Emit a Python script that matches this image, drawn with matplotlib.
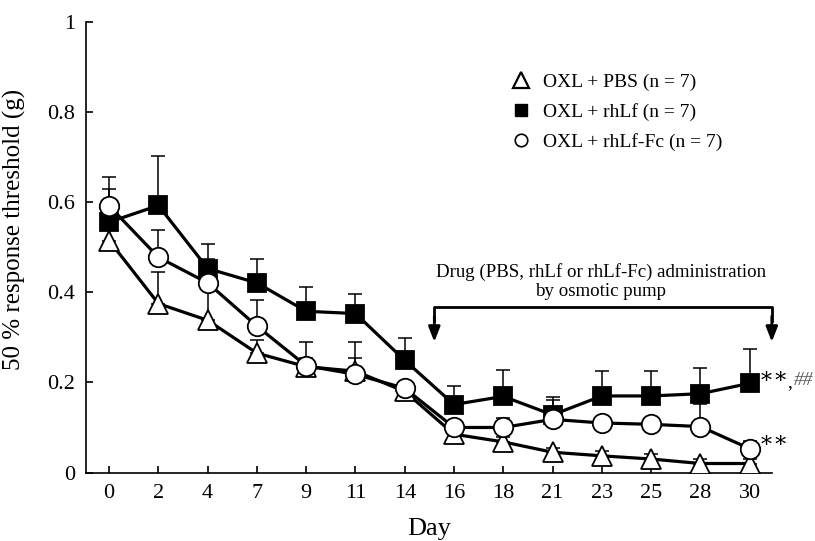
import numpy as np
import matplotlib
matplotlib.use('Agg')
import matplotlib.pyplot as plt
from matplotlib.lines import Line2D

plt.rcParams['font.family'] = ['Liberation Serif', 'DejaVu Serif']

days = ['0', '2', '4', '7', '9', '11', '14', '16', '18', '21', '23', '25', '28', '30']

pbs = [0.515, 0.375, 0.338, 0.265, 0.235, 0.225, 0.18, 0.085, 0.068, 0.045, 0.037, 0.03, 0.02, 0.02]
pbs_err = [0.04, 0.07, 0.08, 0.03, 0.02, 0.03, 0.02, 0.01, 0.01, 0.01, 0.01, 0.01, 0.01, 0.01]

rhlf = [0.556, 0.593, 0.453, 0.421, 0.358, 0.353, 0.249, 0.151, 0.169, 0.128, 0.17, 0.17, 0.175, 0.198]
rhlf_err = [0.073, 0.11, 0.054, 0.054, 0.055, 0.043, 0.05, 0.04, 0.058, 0.04, 0.055, 0.055, 0.058, 0.077]

fc = [0.592, 0.478, 0.421, 0.325, 0.237, 0.218, 0.187, 0.1, 0.1, 0.118, 0.11, 0.107, 0.102, 0.053]
fc_err = [0.064, 0.06, 0.054, 0.059, 0.053, 0.072, 0.01, 0.01, 0.02, 0.042, 0.01, 0.01, 0.05, 0.016]

labels = ['OXL + PBS (n = 7)', 'OXL + rhLf (n = 7)', 'OXL + rhLf-Fc (n = 7)']

x = np.arange(len(days))

fig = plt.figure(figsize=(8.15, 5.41), dpi=100)
ax = fig.add_axes([0.1055, 0.1266, 0.8415, 0.8324])

def series(vals, err, marker, face, ms, z):
    vals = np.array(vals)
    ax.errorbar(x, vals, yerr=[np.zeros(len(vals)), np.array(err)], fmt='none',
                ecolor='black', elinewidth=1.1, capsize=5, capthick=1.1, zorder=1)
    ax.plot(x, vals, color='black', lw=2.3, marker=marker, ms=ms,
            mfc=face, mec='black', mew=1.3, zorder=z)

series(rhlf, rhlf_err, 's', 'black', 13, 3)
series(pbs, pbs_err, '^', 'white', 14, 4)
series(fc, fc_err, 'o', 'white', 14, 5)

ax.set_xlim(-0.47, 13.45)
ax.set_ylim(0, 1)
ax.set_xticks(x)
ax.set_xticklabels(days)
ax.set_yticks([0, 0.2, 0.4, 0.6, 0.8, 1])
ax.set_yticklabels(['0', '0.2', '0.4', '0.6', '0.8', '1'])
ax.tick_params(direction='in', length=5, width=1.2, labelsize=16, pad=8)
for s in ['top', 'right']:
    ax.spines[s].set_visible(False)
for s in ['left', 'bottom']:
    ax.spines[s].set_linewidth(1.2)

ax.set_ylabel('50 % response threshold (g)', fontsize=18)
ax.yaxis.set_label_coords(-0.087, 0.54)
ax.set_xlabel('Day', fontsize=19, labelpad=11)

# administration bracket
xa, xb, ytop, ytip = 6.6, 13.45, 0.367, 0.29
ax.plot([xa, xa, xb, xb], [ytop - 0.03, ytop, ytop, ytop - 0.03], color='black', lw=2, clip_on=False)
for xx in (xa, xb):
    ax.annotate('', xy=(xx, ytip), xytext=(xx, ytop - 0.02),
                arrowprops=dict(arrowstyle='-|>,head_length=0.9,head_width=0.35',
                                color='black', lw=2, shrinkA=0, shrinkB=0),
                annotation_clip=False)
ax.text(9.98, 0.382, 'Drug (PBS, rhLf or rhLf-Fc) administration\nby osmotic pump',
        ha='center', va='bottom', fontsize=13.6, linespacing=1.2)

ax.text(13.18, rhlf[-1] + 0.014, '\u2217\u2217', fontsize=16, va='center', ha='left',
        family=['DejaVu Serif'])
ax.text(13.77, rhlf[-1] + 0.002, ',', fontsize=14, va='center', ha='left')
ax.text(13.9, rhlf[-1] + 0.006, '##', fontsize=14, va='center', ha='left', color='#555555',
        style='italic')
ax.text(13.18, fc[-1] + 0.016, '\u2217\u2217', fontsize=16, va='center', ha='left',
        family=['DejaVu Serif'])

handles = [
    Line2D([], [], ls='none', marker='^', ms=11, mfc='white', mec='black', mew=1.6),
    Line2D([], [], ls='none', marker='s', ms=9, mfc='black', mec='black'),
    Line2D([], [], ls='none', marker='o', ms=9, mfc='white', mec='black', mew=1.2),
]
ax.legend(handles, labels, loc='upper left', bbox_to_anchor=(0.595, 0.925), frameon=False,
          fontsize=14, handlelength=1.0, handletextpad=0.6, labelspacing=0.62)

fig.savefig('out.png', dpi=100)
